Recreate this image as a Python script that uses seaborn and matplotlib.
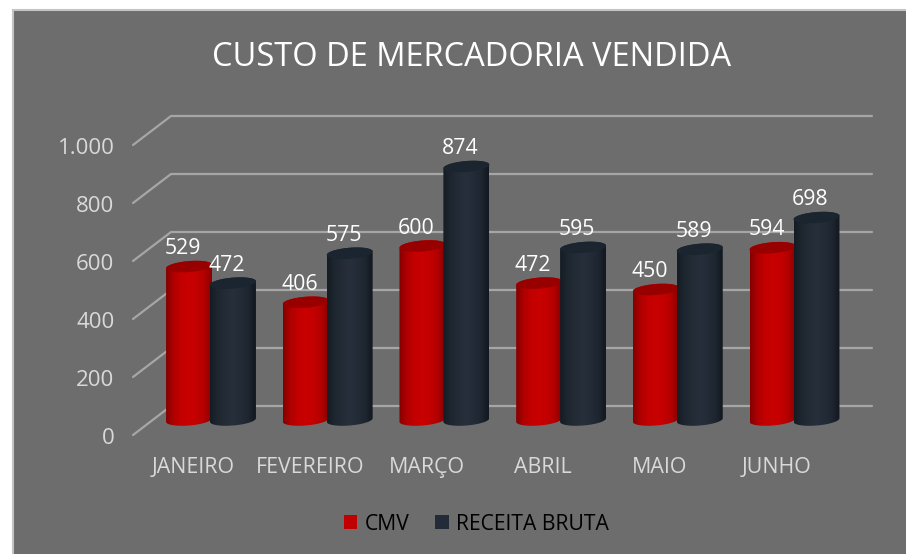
import numpy as np
import pandas as pd
import matplotlib
matplotlib.use('Agg')
import matplotlib.pyplot as plt
from matplotlib.colors import LinearSegmentedColormap
from matplotlib.patches import Polygon, Rectangle
from matplotlib.transforms import ScaledTranslation
import seaborn as sns

# Dados do grafico
meses = ['JANEIRO', 'FEVEREIRO', 'MARÇO', 'ABRIL', 'MAIO', 'JUNHO']
cmv = [529, 406, 600, 472, 450, 594]
receita = [472, 575, 874, 595, 589, 698]
ticks_y = [0, 200, 400, 600, 800, 1000]
rotulos_y = ['0', '200', '400', '600', '800', '1.000']

W, H = 906, 554
FUNDO = '#6d6d6d'
GRADE = '#a6a6a6'
CORES = {'CMV': '#c00000', 'RECEITA BRUTA': '#222b38'}
RAMPAS = {
    'CMV': ['#860000', '#b00000', '#c40000', '#c80000', '#c40000', '#b40000', '#880000'],
    'RECEITA BRUTA': ['#151c24', '#1e2630', '#232b36', '#272f3c', '#232b37', '#1e2630', '#12181f'],
}
TOPO = {'CMV': '#980000', 'RECEITA BRUTA': '#1a2530'}

sns.set_style('white')
plt.rcParams['font.family'] = ['Open Sans', 'DejaVu Sans']

df = pd.DataFrame({
    'mes': meses * 2,
    'valor': cmv + receita,
    'serie': ['CMV'] * 6 + ['RECEITA BRUTA'] * 6,
})

fig = plt.figure(figsize=(W / 100, H / 100), dpi=100, facecolor='white')
fig.patches.append(Rectangle((13 / W, -0.1), 1, 1.1 - 10 / H, transform=fig.transFigure,
                             facecolor=FUNDO, edgecolor='#c4c4c4', linewidth=1.5, zorder=-1))

# eixo: x=0 em 211 px, 116.7 px por categoria; y=0 em 435 px, 0.29 px por unidade
passo = 116.7
px = 0.29
x0 = 211 - 0.5 * passo
ax = fig.add_axes([x0 / W, 1 - 435 / H, 6 * passo / W, 1000 * px / H])
ax.patch.set_visible(False)

base = 15 / px  # base das barras no meio da profundidade
sns.barplot(data=df, x='mes', y='valor', hue='serie', palette=CORES, width=0.753,
            saturation=1, ax=ax, legend=True)
ax.set_xlim(-0.5, 5.5)
ax.set_ylim(0, 1000)
sns.despine(ax=ax, left=True, bottom=True)
ax.set_xlabel('')
ax.set_ylabel('')

# grade em perspectiva
x_frente = (133 - 211) / passo
x_fundo = (171 - 211) / passo
x_fim = (872 - 211) / passo
for v in ticks_y:
    ax.plot([x_frente, x_fundo, x_fim], [v, v + 100, v + 100], color=GRADE, lw=1.6,
            clip_on=False, zorder=1, solid_joinstyle='miter')

# cilindros a partir das barras do seaborn
semi_h = 5.5 / px
incl = 1.8 / px
t = np.linspace(0, 2 * np.pi, 121)
z = 3
for cont, nome in zip(ax.containers, CORES):
    rampa = LinearSegmentedColormap.from_list(nome, RAMPAS[nome])
    for bar in cont:
        cx = bar.get_x() + bar.get_width() / 2
        rx = bar.get_width() / 2 + 1 / passo
        y_base = base
        y_topo = base + bar.get_height()
        bar.set_visible(False)

        t1, t2 = np.linspace(np.pi, 2 * np.pi, 40), np.linspace(0, np.pi, 40)
        xs = np.r_[cx + rx * np.cos(t1), cx + rx * np.cos(t2)]
        ys = np.r_[y_base + semi_h * np.sin(t1) + incl * np.cos(t1),
                   y_topo + semi_h * np.sin(t2) + incl * np.cos(t2)]
        corpo = Polygon(np.c_[xs, ys], closed=True, transform=ax.transData,
                        facecolor='none', edgecolor='none')
        ax.add_patch(corpo)
        im = ax.imshow(np.linspace(0, 1, 64)[None, :], cmap=rampa, aspect='auto',
                       extent=[cx - rx, cx + rx, y_base - 60, y_topo + 60],
                       interpolation='bilinear', zorder=z, clip_on=True)
        im.set_clip_path(corpo)
        tampa = Polygon(np.c_[cx + rx * np.cos(t), y_topo + semi_h * np.sin(t) + incl * np.cos(t)],
                        closed=True, facecolor=TOPO[nome], edgecolor='none', zorder=z + 0.5,
                        clip_on=False)
        ax.add_patch(tampa)
        z += 1

        ax.annotate(f'{bar.get_height():.0f}', (cx, y_topo), xytext=(-6 / 1.389, 18 / 1.389),
                    textcoords='offset points', ha='center', va='center', color='white',
                    fontsize=15.3, zorder=50, annotation_clip=False)

ax.set_xlim(-0.5, 5.5)
ax.set_ylim(0, 1000)

ax.set_yticks(ticks_y, rotulos_y)
ax.tick_params(axis='y', length=0, pad=27.5, labelsize=16, labelcolor='#d9d9d9')
ax.tick_params(axis='x', length=0, pad=15.5, labelsize=15.4, labelcolor='#d9d9d9')
for lab in ax.get_xticklabels():
    lab.set_transform(lab.get_transform() + ScaledTranslation(-18 / 100, 0, fig.dpi_scale_trans))
for lab in ax.get_yticklabels():
    lab.set_transform(lab.get_transform() + ScaledTranslation(0, -1 / 100, fig.dpi_scale_trans))

leg = ax.legend(loc='center', bbox_to_anchor=(476 / W, 1 - 524 / H), bbox_transform=fig.transFigure,
                ncol=2, frameon=False, fontsize=15.2, handlelength=0.66, handleheight=0.66,
                handletextpad=0.33, columnspacing=1.2, title=None, borderpad=0, labelcolor='black')
for h in leg.get_patches():
    h.set_edgecolor('none')

fig.text(472 / W, 1 - 58 / H, 'CUSTO DE MERCADORIA VENDIDA', color='white', fontsize=23.5,
         ha='center', va='center')

fig.savefig('out.png', dpi=100)
